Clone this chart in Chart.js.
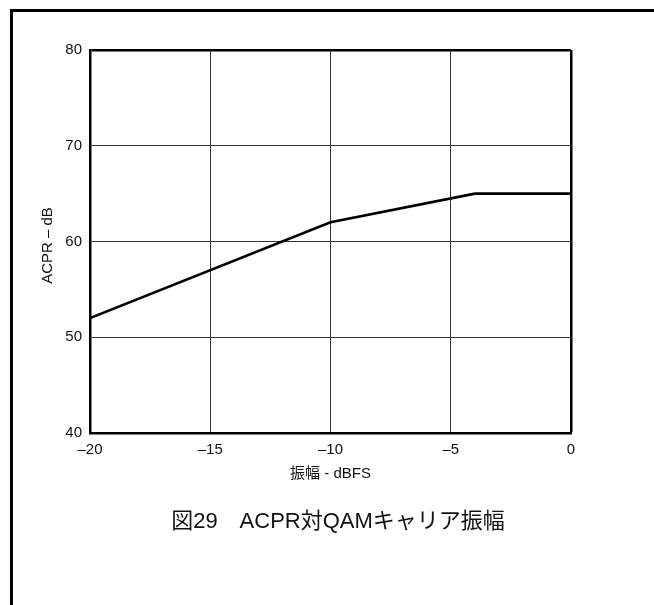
<!DOCTYPE html><html lang="ja"><head>
    <meta charset="utf-8">
    <script src="https://cdn.jsdelivr.net/npm/chart.js@4/dist/chart.umd.min.js"></script>
    <style>
      body { margin: 0; background: #fff; }
      #wrap { position: relative; width: 654px; height: 605px; }
      #frame { position: absolute; left: 10px; top: 9px; width: 660px; height: 620px;
               border-top: 3px solid #000; border-left: 3px solid #000; }
      #caption { position: absolute; left: 0; top: 508px; width: 676px; text-align: center;
                 font-family: "Liberation Sans", "Noto Sans CJK JP", sans-serif; font-size: 22px;
                 line-height: 26px; color: #111; }
      canvas { position: absolute; left: 0; top: 0; }
    </style>
  </head>
  <body>
    <div id="wrap">
      <canvas id="myChart" width="654" height="605"></canvas>
      <div id="frame"></div>
      <div id="caption">図29　ACPR対QAMキャリア振幅</div>
    </div>
    <script>
      // 振幅 (dBFS) と ACPR (dB)
      const amplitude = [-20, -10, -4, 0];
      const acpr = [52, 62, 65, 65];
      const xTicks = [-20, -15, -10, -5, 0];
      const yTicks = [40, 50, 60, 70, 80];
      const xTitle = '振幅 - dBFS';
      const yTitle = 'ACPR – dB';

      const font = { family: '"Liberation Sans", Arial, sans-serif', size: 15 };

      // 軸タイトルは位置を固定して手描き
      const axisTitles = {
        id: 'axisTitles',
        afterDraw(chart) {
          const c = chart.ctx;
          const area = chart.chartArea;
          c.save();
          c.fillStyle = '#111';
          c.textAlign = 'center';
          c.textBaseline = 'middle';
          c.font = '15px "Liberation Sans", "Noto Sans CJK JP", Arial, sans-serif';
          c.fillText(xTitle, (area.left + area.right) / 2, 474);
          c.translate(48, (area.top + area.bottom) / 2 + 4);
          c.rotate(-Math.PI / 2);
          c.fillText(yTitle, 0, 0);
          c.restore();
        }
      };

      const ctx = document.getElementById('myChart').getContext('2d');
      const myChart = new Chart(ctx, {
        type: 'line',
        data: {
          datasets: [{
            data: amplitude.map((a, i) => ({ x: a, y: acpr[i] })),
            borderColor: '#000',
            borderWidth: 2.6,
            pointRadius: 0,
            tension: 0
          }]
        },
        options: {
          responsive: false,
          animation: false,
          layout: { padding: { left: 0, top: 50, right: 83, bottom: 0 } },
          plugins: { legend: { display: false }, tooltip: { enabled: false } },
          scales: {
            x: {
              type: 'linear',
              min: -20, max: 0,
              afterBuildTicks(scale) { scale.ticks = xTicks.map(v => ({ value: v })); },
              afterFit(scale) { scale.height = 172; },
              ticks: {
                color: '#111', font: font, padding: 8, maxRotation: 0,
                callback: v => String(v).replace('-', '–')
              },
              grid: {
                drawTicks: false,
                color: c => c.tick && c.tick.value === 0 ? '#000' : '#333',
                lineWidth: c => c.tick && c.tick.value === 0 ? 2.5 : 1
              },
              border: { color: '#000', width: 2.5 }
            },
            y: {
              min: 40, max: 80,
              afterBuildTicks(scale) { scale.ticks = yTicks.map(v => ({ value: v })); },
              afterFit(scale) { scale.width = 90; },
              ticks: { color: '#111', font: font, padding: 8 },
              grid: {
                drawTicks: false,
                color: c => c.tick && c.tick.value === 80 ? '#000' : '#333',
                lineWidth: c => c.tick && c.tick.value === 80 ? 2.5 : 1
              },
              border: { color: '#000', width: 2.5 }
            }
          }
        },
        plugins: [axisTitles]
      });
    </script>
  </body></html>
